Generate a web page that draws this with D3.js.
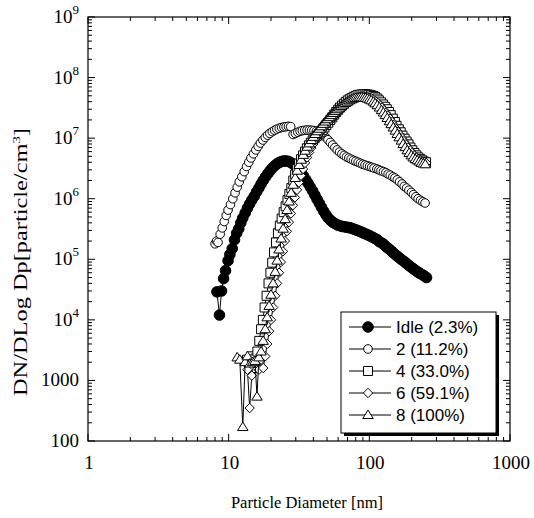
<!DOCTYPE html>
<html><head><meta charset="utf-8">
<script src="https://cdn.jsdelivr.net/npm/d3@7"></script>
<style>body{margin:0;background:#fff}</style></head><body>
<svg id="c" width="534" height="518" xmlns="http://www.w3.org/2000/svg"></svg>
<script>
// ---------- data ----------
const seriesNames = ["Idle (2.3%)", "2 (11.2%)", "4 (33.0%)", "6 (59.1%)", "8 (100%)"];
const xTickLabels = ["1", "10", "100", "1000"];
const yTickLabels = ["100", "1000", "10^4", "10^5", "10^6", "10^7", "10^8", "10^9"];

const idleD = [8.25,8.6,8.9,9.2,9.5,9.9,10.2,10.6,11.0,11.4,11.8,12.2,12.6,13.1,13.6,14.1,14.6,15.2,15.8,16.4,17.0,17.6,18.3,19.0,19.7,20.4,21.2,22.0,22.8,23.7,24.6,25.5,26.4,27.4,28.4,29.5,30.6,31.7,32.9,34.1,35.4,36.7,38.1,39.5,41.0,42.5,44.1,45.7,47.4,49.2,51.0,52.9,54.9,56.9,59.0,61.2,63.5,65.9,68.3,70.9,73.5,76.2,79.1,82.0,85.1,88.2,91.5,94.9,98.4,102,106,110,114,118,123,127,132,137,142,147,153,158,164,170,177,183,190,197,205,212,220,228,237,246,255];
const idleN = [2.9e4,1.2e4,3.0e4,4.8e4,6.5e4,9.5e4,1.2e5,1.5e5,2.1e5,2.7e5,3.2e5,4.0e5,4.8e5,5.8e5,7.0e5,8.2e5,9.5e5,1.1e6,1.3e6,1.5e6,1.75e6,2.0e6,2.3e6,2.6e6,2.9e6,3.2e6,3.5e6,3.75e6,3.95e6,4.1e6,4.2e6,4.2e6,4.15e6,4.0e6,3.8e6,3.55e6,3.25e6,2.95e6,2.65e6,2.35e6,2.05e6,1.8e6,1.55e6,1.35e6,1.15e6,9.8e5,8.4e5,7.2e5,6.2e5,5.4e5,4.8e5,4.4e5,4.1e5,3.9e5,3.7e5,3.6e5,3.5e5,3.45e5,3.4e5,3.35e5,3.3e5,3.2e5,3.1e5,3.0e5,2.9e5,2.8e5,2.7e5,2.6e5,2.5e5,2.4e5,2.3e5,2.2e5,2.1e5,1.95e5,1.85e5,1.75e5,1.6e5,1.5e5,1.4e5,1.3e5,1.2e5,1.12e5,1.05e5,9.8e4,9.2e4,8.6e4,8.0e4,7.5e4,7.0e4,6.6e4,6.2e4,5.9e4,5.6e4,5.3e4,5.0e4];

const s2D = [8.0,8.2,8.4,8.7,9.0,9.3,9.6,9.9,10.3,10.7,11.1,11.5,11.9,12.4,12.9,13.4,13.9,14.4,15.0,15.6,16.2,16.8,17.5,18.2,18.9,19.6,20.4,21.2,22.0,22.9,23.8,24.7,25.6,26.6,27.6,28.7,29.8,31.0,32.2,33.4,34.7,36.1,37.5,38.9,40.4,42.0,43.6,45.3,47.1,48.9,50.8,52.8,54.8,56.9,59.1,61.4,63.8,66.2,68.8,71.5,74.2,77.1,80.1,83.2,86.4,89.7,93.2,96.8,100.5,104,108,113,117,121,126,131,136,141,147,152,158,164,171,177,184,191,199,206,214,222,231,240,249];
const s2N = [1.8e5,2.0e5,1.9e5,2.6e5,3.3e5,4.2e5,5.3e5,6.5e5,8.0e5,1.0e6,1.25e6,1.55e6,1.9e6,2.3e6,2.8e6,3.4e6,4.0e6,4.7e6,5.5e6,6.4e6,7.3e6,8.3e6,9.3e6,1.03e7,1.12e7,1.2e7,1.28e7,1.35e7,1.41e7,1.46e7,1.5e7,1.53e7,1.55e7,1.57e7,1.55e7,1.15e7,1.2e7,1.25e7,1.3e7,1.33e7,1.35e7,1.36e7,1.36e7,1.35e7,1.33e7,1.3e7,1.26e7,1.2e7,1.12e7,1.03e7,9.4e6,8.5e6,7.7e6,7.0e6,6.4e6,5.9e6,5.5e6,5.2e6,4.9e6,4.7e6,4.5e6,4.3e6,4.15e6,4.0e6,3.85e6,3.7e6,3.6e6,3.5e6,3.4e6,3.3e6,3.2e6,3.1e6,3.0e6,2.9e6,2.8e6,2.7e6,2.55e6,2.45e6,2.3e6,2.2e6,2.05e6,1.9e6,1.75e6,1.6e6,1.5e6,1.38e6,1.27e6,1.17e6,1.08e6,1.0e6,9.4e5,8.9e5,8.5e5];

const s4D = [13.5,14.0,14.5,15.0,15.5,16.0,16.5,17.0,17.5,18.0,18.6,19.2,19.8,20.4,21.0,21.7,22.4,23.1,23.8,24.6,25.4,26.2,27.0,27.9,28.8,29.7,30.7,31.7,32.7,33.8,34.9,36.0,37.2,38.4,39.6,40.9,42.2,43.6,45.0,46.5,48.0,49.5,51.1,52.8,54.5,56.3,58.1,60.0,61.9,63.9,66.0,68.1,70.3,72.6,75.0,77.4,79.9,82.5,85.2,87.9,90.8,93.7,96.7,99.9,103,107,110,114,117,121,125,129,133,138,142,147,152,156,162,167,172,178,184,190,196,202,209,216,223,230,238,245,253];
const s4N = [2.2e3,1.8e3,2.5e3,1.6e3,2.3e3,3.0e3,4.5e3,7.0e3,1.0e4,1.6e4,2.5e4,4.0e4,6.0e4,8.8e4,1.3e5,1.9e5,2.7e5,3.6e5,4.7e5,6.0e5,7.5e5,9.5e5,1.2e6,1.5e6,2.0e6,2.5e6,3.1e6,3.8e6,4.5e6,5.2e6,6.0e6,6.8e6,7.6e6,8.4e6,9.2e6,1.0e7,1.08e7,1.16e7,1.25e7,1.35e7,1.5e7,1.65e7,1.8e7,2.0e7,2.2e7,2.45e7,2.7e7,2.95e7,3.2e7,3.45e7,3.7e7,3.95e7,4.2e7,4.4e7,4.6e7,4.8e7,4.95e7,5.1e7,5.2e7,5.25e7,5.3e7,5.3e7,5.25e7,5.2e7,5.1e7,4.95e7,4.75e7,4.5e7,4.2e7,3.9e7,3.6e7,3.3e7,3.0e7,2.7e7,2.4e7,2.1e7,1.85e7,1.6e7,1.4e7,1.25e7,1.1e7,9.8e6,8.8e6,7.9e6,7.0e6,6.3e6,5.7e6,5.2e6,4.8e6,4.5e6,4.3e6,4.1e6,4.0e6];

const s6D = [13.0,13.6,14.1,14.6,15.2,15.8,16.4,17.0,17.6,18.2,18.8,19.4,20.0,20.7,21.4,22.1,22.8,23.5,24.3,25.1,25.9,26.8,27.7,28.6,29.6,30.6,31.6,32.7,33.8,34.9,36.1,37.3,38.6,39.9,41.2,42.6,44.0,45.5,47.0,48.6,50.2,51.9,53.6,55.4,57.3,59.2,61.2,63.3,65.4,67.6,69.9,72.2,74.6,77.1,79.7,82.4,85.2,88.0,91.0,94.0,97.2,100,104,107,111,115,119,123,127,131,135,140,145,149,154,160,165,171,176,182,188,195,201,208,215,222,230,238,246,254];
const s6N = [2.0e3,1.5e3,3.5e2,1.2e3,2.0e3,1.8e3,1.5e3,2.2e3,1.6e3,2.5e3,4.0e3,6.5e3,1.0e4,1.6e4,2.5e4,4.0e4,6.0e4,9.0e4,1.35e5,2.0e5,2.9e5,4.1e5,5.7e5,7.8e5,1.05e6,1.4e6,1.85e6,2.4e6,3.1e6,3.9e6,4.8e6,5.8e6,6.9e6,8.0e6,9.2e6,1.04e7,1.16e7,1.28e7,1.4e7,1.55e7,1.7e7,1.85e7,2.0e7,2.2e7,2.4e7,2.6e7,2.8e7,3.0e7,3.25e7,3.5e7,3.75e7,4.0e7,4.2e7,4.4e7,4.55e7,4.7e7,4.8e7,4.85e7,4.85e7,4.8e7,4.75e7,4.65e7,4.5e7,4.3e7,4.05e7,3.8e7,3.5e7,3.2e7,2.9e7,2.6e7,2.35e7,2.1e7,1.85e7,1.65e7,1.45e7,1.28e7,1.13e7,1.0e7,8.9e6,7.9e6,7.0e6,6.3e6,5.7e6,5.2e6,4.8e6,4.5e6,4.3e6,4.1e6,4.0e6,3.9e6];

const s8D = [11.5,12.0,12.6,13.1,13.6,14.2,14.8,15.4,15.9,16.4,17.0,17.6,18.2,18.8,19.4,20.0,20.7,21.4,22.1,22.8,23.6,24.4,25.2,26.0,26.9,27.8,28.7,29.7,30.7,31.7,32.8,33.9,35.0,36.2,37.4,38.7,40.0,41.3,42.7,44.1,45.6,47.1,48.7,50.3,52.0,53.7,55.5,57.4,59.3,61.3,63.3,65.4,67.6,69.8,72.2,74.6,77.0,79.6,82.3,85.0,87.9,90.8,93.8,96.9,100,103,107,110,114,118,122,126,130,134,139,143,148,153,158,163,169,174,180,186,192,199,205,212,219,227,234,242,250];
const s8N = [2.4e3,2.2e3,1.7e2,2.0e3,2.5e3,1.9e3,2.0e3,2.1e3,5.4e2,2.4e3,3.0e3,4.5e3,7.0e3,1.1e4,1.7e4,2.6e4,4.0e4,6.2e4,9.5e4,1.45e5,2.2e5,3.2e5,4.6e5,6.5e5,9.0e5,1.25e6,1.7e6,2.2e6,2.9e6,3.6e6,4.4e6,5.3e6,6.2e6,7.2e6,8.2e6,9.3e6,1.05e7,1.17e7,1.3e7,1.43e7,1.57e7,1.72e7,1.88e7,2.05e7,2.22e7,2.4e7,2.6e7,2.8e7,3.0e7,3.2e7,3.4e7,3.6e7,3.8e7,4.0e7,4.2e7,4.35e7,4.5e7,4.6e7,4.65e7,4.7e7,4.7e7,4.65e7,4.6e7,4.5e7,4.35e7,4.2e7,4.0e7,3.75e7,3.5e7,3.2e7,2.9e7,2.65e7,2.4e7,2.15e7,1.9e7,1.7e7,1.5e7,1.33e7,1.17e7,1.03e7,9.1e6,8.0e6,7.1e6,6.3e6,5.7e6,5.2e6,4.8e6,4.5e6,4.3e6,4.1e6,3.9e6,3.8e6,3.7e6];

// ---------- layout ----------
const svg = d3.select("#c");
const L = 88, R = 510, T = 17, B = 441;
const x = d3.scaleLog().domain([1, 1000]).range([L, R]);
const y = d3.scaleLog().domain([100, 1e9]).range([B, T]);

const serif = "'Liberation Serif','Times New Roman',serif";
const sans = "'Liberation Sans',Arial,sans-serif";

// frame
svg.append("rect").attr("x", L).attr("y", T).attr("width", R - L).attr("height", B - T)
  .attr("fill", "none").attr("stroke", "#000").attr("stroke-width", 1.2);

// ticks (inside, all four sides)
const isMajor = v => Math.abs(Math.log10(v) - Math.round(Math.log10(v))) < 1e-6;
const tg = svg.append("g").attr("stroke", "#000").attr("stroke-width", 1);
x.ticks().forEach(v => {
  const len = isMajor(v) ? 7 : 4;
  tg.append("line").attr("x1", x(v)).attr("x2", x(v)).attr("y1", B).attr("y2", B - len);
  tg.append("line").attr("x1", x(v)).attr("x2", x(v)).attr("y1", T).attr("y2", T + len);
});
y.ticks().forEach(v => {
  const len = isMajor(v) ? 7 : 4;
  tg.append("line").attr("y1", y(v)).attr("y2", y(v)).attr("x1", L).attr("x2", L + len);
  tg.append("line").attr("y1", y(v)).attr("y2", y(v)).attr("x1", R).attr("x2", R - len);
});

// x tick labels
const xMajors = [1, 10, 100, 1000];
svg.append("g").selectAll("text").data(xMajors).join("text")
  .attr("x", d => x(d) + 1).attr("y", 469).attr("text-anchor", "middle")
  .attr("font-family", serif).attr("font-size", 19)
  .text((d, i) => xTickLabels[i]);

// y tick labels
const yMajors = [100, 1000, 1e4, 1e5, 1e6, 1e7, 1e8, 1e9];
const yl = svg.append("g").attr("font-family", serif).attr("font-size", 19);
yMajors.forEach((v, i) => {
  const lab = yTickLabels[i];
  const t = yl.append("text").attr("x", 79).attr("y", y(v) + 6).attr("text-anchor", "end");
  if (lab.includes("^")) {
    const [b, e] = lab.split("^");
    t.append("tspan").text(b);
    t.append("tspan").attr("dy", -9).attr("font-size", 13).text(e);
  } else {
    t.text(lab);
  }
});

// axis titles
svg.append("text").attr("x", 307).attr("y", 508).attr("text-anchor", "middle")
  .attr("font-family", serif).attr("font-size", 16.5).text("Particle Diameter [nm]");
const yt2 = svg.append("text").attr("transform", "translate(27,262) rotate(-90)")
  .attr("text-anchor", "middle").attr("font-family", serif).attr("font-size", 18)
  .attr("textLength", 268).attr("lengthAdjust", "spacingAndGlyphs");
yt2.append("tspan").text("DN/DLog Dp[particle/cm");
yt2.append("tspan").attr("dy", -7).attr("font-size", 11).text("3");
yt2.append("tspan").attr("dy", 7).text("]");

// ---------- markers ----------
const shapes = {
  filled: r => `M${-r},0A${r},${r} 0 1,0 ${r},0A${r},${r} 0 1,0 ${-r},0Z`,
  circle: r => `M${-r},0A${r},${r} 0 1,0 ${r},0A${r},${r} 0 1,0 ${-r},0Z`,
  square: r => `M${-r},${-r}H${r}V${r}H${-r}Z`,
  diamond: r => `M0,${-r}L${r},0L0,${r}L${-r},0Z`,
  triangle: r => `M0,${-r}L${r * 1.05},${r * 0.7}L${-r * 1.05},${r * 0.7}Z`
};
const series = [
  { name: seriesNames[0], d: idleD, n: idleN, shape: "filled", r: 5.3, fill: "#000" },
  { name: seriesNames[1], d: s2D, n: s2N, shape: "circle", r: 4.3, fill: "#fff" },
  { name: seriesNames[2], d: s4D, n: s4N, shape: "square", r: 4.5, fill: "#fff" },
  { name: seriesNames[3], d: s6D, n: s6N, shape: "diamond", r: 4.7, fill: "#fff" },
  { name: seriesNames[4], d: s8D, n: s8N, shape: "triangle", r: 5, fill: "#fff" }
];

const line = d3.line().x(p => x(p[0])).y(p => y(p[1]));
const plot = svg.append("g");
series.forEach(s => {
  const pts = s.d.map((d, i) => [d, s.n[i]]);
  const g = plot.append("g");
  g.append("path").attr("d", line(pts)).attr("fill", "none").attr("stroke", "#000").attr("stroke-width", 1);
  g.selectAll("path.m").data(pts).join("path").attr("class", "m")
    .attr("transform", p => `translate(${x(p[0])},${y(p[1])})`)
    .attr("d", shapes[s.shape](s.r))
    .attr("fill", s.fill).attr("stroke", "#000").attr("stroke-width", 1);
});

// ---------- legend ----------
const lx = 341, ly = 312, lw = 155, lh = 121;
svg.append("rect").attr("x", lx + 3).attr("y", ly + 3).attr("width", lw).attr("height", lh).attr("fill", "#000");
svg.append("rect").attr("x", lx).attr("y", ly).attr("width", lw).attr("height", lh)
  .attr("fill", "#fff").attr("stroke", "#000").attr("stroke-width", 1);
series.forEach((s, i) => {
  const cy = ly + 15 + i * 22;
  const g = svg.append("g");
  g.append("line").attr("x1", lx + 8).attr("x2", lx + 50).attr("y1", cy).attr("y2", cy)
    .attr("stroke", "#000").attr("stroke-width", 1);
  g.append("path").attr("transform", `translate(${lx + 27},${cy})`).attr("d", shapes[s.shape](s.r))
    .attr("fill", s.fill).attr("stroke", "#000");
  g.append("text").attr("x", lx + 55).attr("y", cy + 6).attr("font-family", sans).attr("font-size", 17)
    .text(s.name);
});
</script>
</body></html>
